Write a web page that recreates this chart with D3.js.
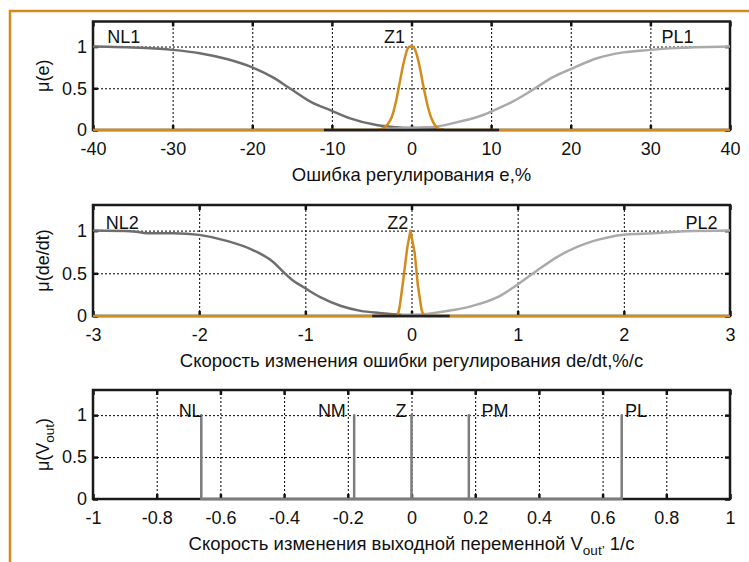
<!DOCTYPE html>
<html>
<head>
<meta charset="utf-8">
<script src="https://cdnjs.cloudflare.com/ajax/libs/d3/7.8.5/d3.min.js"></script>
<style>
body { margin: 0; background: #fff; }
svg { display: block; }
</style>
</head>
<body>
<div id="chart"></div>
<script>
// ---- panel 1: error e, %
var errTicks = [-40, -30, -20, -10, 0, 10, 20, 30, 40];
var errNL1 = [[-40, 1], [-34, 0.985], [-30, 0.96], [-26.6, 0.92], [-23.2, 0.85], [-20, 0.75], [-17.4, 0.63],
    [-15.3, 0.5], [-12.7, 0.34], [-10, 0.23], [-7.7, 0.14], [-4.4, 0.06], [-1.5, 0.03], [1.4, 0.02], [4, 0.01]];
var errPL1 = [[-4, 0.01], [-1.5, 0.02], [1, 0.03], [3, 0.04], [6, 0.1], [9, 0.18], [10, 0.22], [12.7, 0.34],
    [15.2, 0.48], [17.7, 0.63], [20, 0.73], [23.3, 0.86], [26.6, 0.93], [30, 0.96], [33.8, 0.984], [40, 1]];
var errZ1 = [[-40, 0], [-4.5, 0], [-3.8, 0.01], [-3, 0.07], [-2.5, 0.15], [-2, 0.32], [-1.5, 0.56], [-1, 0.8],
    [-0.5, 0.97], [-0.2, 1], [0.1, 1], [0.5, 0.95], [1, 0.77], [1.5, 0.52], [2, 0.3], [2.5, 0.14], [3, 0.05],
    [3.5, 0.01], [4.2, 0], [40, 0]];
var errZeroSeg = [[-11, 0], [11, 0]];
var errLabels = [{ text: "NL1", x: -38.2, y: 1.12, anchor: "start" },
    { text: "Z1", x: -0.8, y: 1.12, anchor: "end" },
    { text: "PL1", x: 31.4, y: 1.12, anchor: "start" }];

// ---- panel 2: error rate de/dt, %/c
var rateTicks = [-3, -2, -1, 0, 1, 2, 3];
var rateNL2 = [[-3, 1], [-2.62, 0.99], [-2.49, 0.97], [-2.24, 0.97], [-2, 0.95], [-1.74, 0.88], [-1.49, 0.77],
    [-1.3, 0.63], [-1.21, 0.52], [-1.12, 0.42], [-1.02, 0.34], [-0.86, 0.22], [-0.67, 0.12], [-0.48, 0.06],
    [-0.3, 0.035], [-0.1, 0.015], [0.1, 0.01]];
var ratePL2 = [[-0.1, 0.01], [0.11, 0.02], [0.39, 0.07], [0.55, 0.11], [0.81, 0.22], [0.99, 0.36], [1.18, 0.53],
    [1.37, 0.69], [1.56, 0.81], [1.78, 0.9], [1.98, 0.95], [2.28, 0.97], [2.53, 0.99], [3, 1]];
var rateZ2 = [[-3, 0], [-0.13, 0], [-0.11, 0.12], [-0.08, 0.4], [-0.04, 0.8], [-0.01, 1], [0.03, 0.74],
    [0.06, 0.36], [0.095, 0.07], [0.115, 0], [3, 0]];
var rateZeroSeg = [[-0.37, 0], [0.36, 0]];
var rateLabels = [{ text: "NL2", x: -2.88, y: 1.1, anchor: "start" },
    { text: "Z2", x: -0.03, y: 1.1, anchor: "end" },
    { text: "PL2", x: 2.58, y: 1.1, anchor: "start" }];

// ---- panel 3: output singletons V_out, 1/c
var outTicks = [-1, -0.8, -0.6, -0.4, -0.2, 0, 0.2, 0.4, 0.6, 0.8, 1];
var outSingletons = [-0.66, -0.18, 0, 0.18, 0.66];
var outLabels = [{ text: "NL", x: -0.695, y: 1.05, anchor: "middle" },
    { text: "NM", x: -0.25, y: 1.05, anchor: "middle" },
    { text: "Z", x: -0.033, y: 1.05, anchor: "middle" },
    { text: "PM", x: 0.262, y: 1.05, anchor: "middle" },
    { text: "PL", x: 0.705, y: 1.05, anchor: "middle" }];

var muTicks = [0, 0.5, 1];

var fontFamily = "'Liberation Sans', Arial, sans-serif";
var fontSize = 18;
var titleSize = 18.5;
var colDark = "#6e6e6e";
var colLight = "#aaaaaa";
var colOrange = "#d38c1c";
var colSingle = "#7c7c7c";

var totalWidth = 749, totalHeight = 562;

var svg = d3.select("#chart").append("svg")
    .attr("width", totalWidth)
    .attr("height", totalHeight)
    .style("font-family", fontFamily);

// orange frame (top and left only)
svg.append("path")
    .attr("d", "M10," + totalHeight + "V11H" + totalWidth)
    .attr("fill", "none")
    .attr("stroke", colOrange)
    .attr("stroke-width", 2.5);

MembershipPanel = function(_top, _height, _xDomain, _xTicks) {
    this.left = 93;
    this.width = 637;
    this.top = _top;
    this.height = _height;
    this.xTicks = _xTicks;

    this.g = svg.append("g")
        .attr("transform", "translate(" + this.left + "," + this.top + ")");

    this.x = d3.scaleLinear().domain(_xDomain).range([0, this.width]);
    this.y = d3.scaleLinear().domain([0, 1.3]).range([this.height, 0]);

    this.initGrid();
    this.initAxes();
    this.gLines = this.g.append("g");
};

MembershipPanel.prototype.initGrid = function() {
    var vis = this;

    var gx = vis.g.append("g")
        .attr("transform", "translate(0," + vis.height + ")")
        .call(d3.axisBottom(vis.x).tickValues(vis.xTicks.slice(1, -1)).tickSize(-vis.height).tickFormat(""));
    var gy = vis.g.append("g")
        .call(d3.axisLeft(vis.y).tickValues([0.5, 1]).tickSize(-vis.width).tickFormat(""));

    [gx, gy].forEach(function(gg) {
        gg.select(".domain").remove();
        gg.selectAll("text").remove();
        gg.selectAll("line")
            .attr("stroke", "#000")
            .attr("stroke-width", 1)
            .attr("stroke-dasharray", "2,2");
    });
};

MembershipPanel.prototype.initAxes = function() {
    var vis = this;

    var xBottom = vis.g.append("g")
        .attr("transform", "translate(0," + vis.height + ")")
        .call(d3.axisBottom(vis.x).tickValues(vis.xTicks).tickSize(-5).tickPadding(12).tickFormat(function(d) { return String(d); }));
    var xTop = vis.g.append("g")
        .call(d3.axisTop(vis.x).tickValues(vis.xTicks).tickSize(-5).tickFormat(""));
    var yLeft = vis.g.append("g")
        .call(d3.axisLeft(vis.y).tickValues(muTicks).tickSize(-5).tickPadding(6).tickFormat(function(d) { return String(d); }));
    var yRight = vis.g.append("g")
        .attr("transform", "translate(" + vis.width + ",0)")
        .call(d3.axisRight(vis.y).tickValues(muTicks).tickSize(-5).tickFormat(""));

    // only the bottom and left axes carry labels
    xTop.selectAll("text").remove();
    yRight.selectAll("text").remove();

    [xBottom, xTop, yLeft, yRight].forEach(function(gg) {
        gg.select(".domain").remove();
        gg.attr("font-family", fontFamily).attr("font-size", fontSize);
        gg.selectAll("line").attr("stroke", "#111").attr("stroke-width", 2.5);
        gg.selectAll("text").attr("fill", "#111");
    });

    // thick box
    vis.g.append("rect")
        .attr("x", 0)
        .attr("y", 0)
        .attr("width", vis.width)
        .attr("height", vis.height)
        .attr("fill", "none")
        .attr("stroke", "#1a1a1a")
        .attr("stroke-width", 2.5);
};

MembershipPanel.prototype.addCurve = function(data, colour, curve, width) {
    var vis = this;
    var line = d3.line()
        .curve(curve)
        .x(function(d) { return vis.x(d[0]); })
        .y(function(d) { return vis.y(d[1]); });

    return vis.gLines.append("path")
        .attr("fill", "none")
        .attr("stroke", colour)
        .attr("stroke-width", width || 2.5)
        .attr("stroke-linejoin", "round")
        .attr("d", line(data));
};

MembershipPanel.prototype.addLabels = function(labels) {
    var vis = this;
    vis.g.selectAll(".setLabel")
        .data(labels)
        .enter().append("text")
        .attr("class", "setLabel")
        .attr("x", function(d) { return vis.x(d.x); })
        .attr("y", function(d) { return vis.y(d.y); })
        .attr("dy", "0.36em")
        .attr("text-anchor", function(d) { return d.anchor; })
        .attr("font-size", fontSize)
        .attr("fill", "#111")
        .text(function(d) { return d.text; });
};

MembershipPanel.prototype.addTitles = function(xTitle, yTitle, ySub) {
    var vis = this;

    var xt = vis.g.append("text")
        .attr("x", vis.width / 2)
        .attr("y", vis.height + 51)
        .attr("text-anchor", "middle")
        .attr("font-size", titleSize)
        .attr("fill", "#111");
    if (xTitle.length == 1) {
        xt.text(xTitle[0].text);
    } else {
        xTitle.forEach(function(part) {
            xt.append("tspan")
                .attr("font-size", part.sub ? 13.5 : titleSize)
                .attr("dy", part.sub ? 5 : (part.after ? -5 : 0))
                .text(part.text);
        });
    }

    var yt = vis.g.append("text")
        .attr("transform", "translate(-50," + (vis.height / 2) + ") rotate(-90)")
        .attr("dy", "0.36em")
        .attr("text-anchor", "middle")
        .attr("font-size", fontSize)
        .attr("fill", "#111");
    yt.append("tspan").text(yTitle);
    if (ySub) {
        yt.append("tspan").attr("font-size", 13.5).attr("dy", 5).text(ySub);
        yt.append("tspan").attr("dy", -5).text(")");
    }
};

// panel 1
var p1 = new MembershipPanel(21.5, 108.5, [-40, 40], errTicks);
p1.addCurve(errNL1, colDark, d3.curveMonotoneX);
p1.addCurve(errPL1, colLight, d3.curveMonotoneX);
p1.addCurve(errZ1, colOrange, d3.curveMonotoneX);
p1.addCurve(errZeroSeg, "#222", d3.curveLinear);
p1.addLabels(errLabels);
p1.addTitles([{ text: "Ошибка регулирования e,%" }], "μ(e)");

// panel 2
var p2 = new MembershipPanel(205, 111, [-3, 3], rateTicks);
p2.addCurve(rateNL2, colDark, d3.curveMonotoneX);
p2.addCurve(ratePL2, colLight, d3.curveMonotoneX);
p2.addCurve(rateZ2, colOrange, d3.curveLinear);
p2.addCurve(rateZeroSeg, "#222", d3.curveLinear);
p2.addLabels(rateLabels);
p2.addTitles([{ text: "Скорость изменения ошибки регулирования de/dt,%/c" }], "μ(de/dt)");

// panel 3: singletons drawn as spikes joined along zero
var p3 = new MembershipPanel(390, 109, [-1, 1], outTicks);
var spikes = [];
outSingletons.forEach(function(v) {
    spikes.push([v, 0], [v, 1], [v, 0]);
});
p3.addCurve(spikes, colSingle, d3.curveLinear);
p3.addLabels(outLabels);
p3.addTitles([{ text: "Скорость изменения выходной переменной V" }, { text: "out’", sub: true },
    { text: " 1/c", after: true }], "μ(V", "out");
</script>
</body>
</html>
